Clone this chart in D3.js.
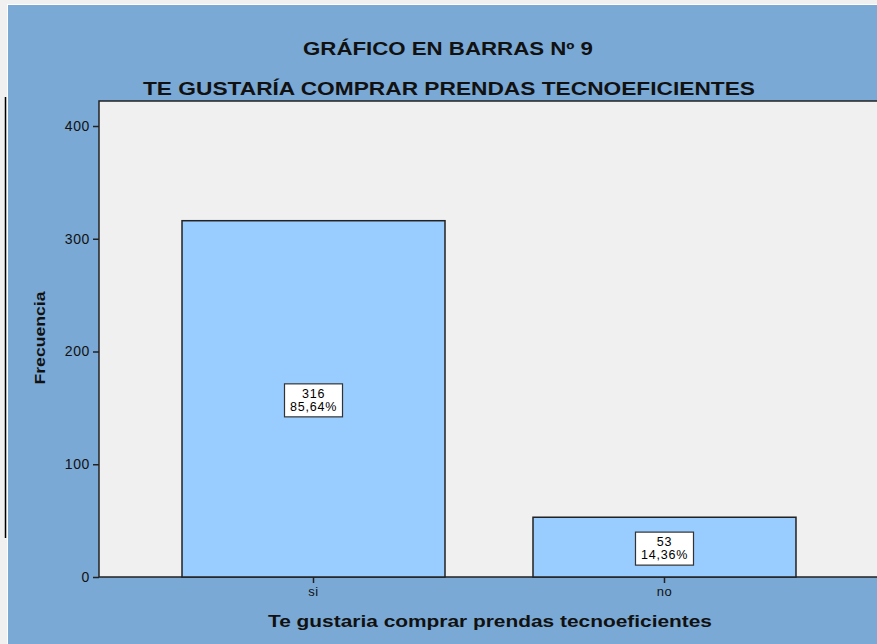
<!DOCTYPE html>
<html>
<head>
<meta charset="utf-8">
<script src="https://cdn.jsdelivr.net/npm/d3@7"></script>
<style>
  body { margin: 0; background: #f0f0f0; }
  text { font-family: "Liberation Sans", Arial, sans-serif; }
</style>
</head>
<body>
<div id="chart"></div>
<script>
// data
var categories = ["si", "no"];
var counts = [316, 53];
var percents = ["85,64%", "14,36%"];
var yTicks = [0, 100, 200, 300, 400];

var svgWidth = 877;
var svgHeight = 644;

var svg = d3.select("#chart")
  .append("svg")
  .attr("width", svgWidth)
  .attr("height", svgHeight);

// outer frame pieces
svg.append("rect").attr("x", 0).attr("y", 0).attr("width", svgWidth).attr("height", svgHeight).attr("fill", "#f0f0f0");
svg.append("rect").attr("x", 7).attr("y", 4).attr("width", svgWidth).attr("height", svgHeight).attr("fill", "#ffffff");
svg.append("rect").attr("x", 8).attr("y", 5).attr("width", svgWidth).attr("height", svgHeight).attr("fill", "#7ba9d5");
svg.append("line").attr("x1", 5.5).attr("x2", 5.5).attr("y1", 97).attr("y2", 538)
  .attr("stroke", "#000").attr("stroke-width", 1.5);

var plot = { left: 99, top: 101, right: 879, bottom: 577 };

var x = d3.scaleBand()
  .domain(categories)
  .range([plot.left, plot.right])
  .paddingInner(0.2507)
  .paddingOuter(0.2365);

var y = d3.scaleLinear()
  .domain([0, 400])
  .range([plot.bottom, 126]);

// plot background
svg.append("rect")
  .attr("x", plot.left)
  .attr("y", plot.top)
  .attr("width", plot.right - plot.left)
  .attr("height", plot.bottom - plot.top)
  .attr("fill", "#f0f0f0")
  .attr("stroke", "#222")
  .attr("stroke-width", 1.5);

// bars
svg.selectAll(".bar")
  .data(categories)
  .enter()
  .append("rect")
  .attr("class", "bar")
  .attr("x", d => x(d))
  .attr("y", (d, i) => y(counts[i]))
  .attr("width", x.bandwidth())
  .attr("height", (d, i) => y(0) - y(counts[i]))
  .attr("fill", "#99ccff")
  .attr("stroke", "#222")
  .attr("stroke-width", 1.5);

// value labels
var lab = svg.selectAll(".lab")
  .data(categories)
  .enter()
  .append("g")
  .attr("class", "lab")
  .attr("transform", (d, i) => `translate(${x(d) + x.bandwidth() / 2}, ${(y(counts[i]) + y(0)) / 2 + 1.5})`);

lab.append("rect")
  .attr("x", -29)
  .attr("y", -16.5)
  .attr("width", 58)
  .attr("height", 33)
  .attr("fill", "#fff")
  .attr("stroke", "#333")
  .attr("stroke-width", 1.2);

lab.append("text")
  .attr("text-anchor", "middle")
  .attr("y", -2.5)
  .attr("font-size", "12.5px")
  .attr("letter-spacing", "0.8px")
  .attr("fill", "#000")
  .text((d, i) => counts[i]);

lab.append("text")
  .attr("text-anchor", "middle")
  .attr("y", 10.5)
  .attr("font-size", "12.5px")
  .attr("letter-spacing", "0.8px")
  .attr("fill", "#000")
  .text((d, i) => percents[i]);

// axes
var leftAxis = d3.axisLeft(y).tickValues(yTicks).tickSize(6).tickPadding(3);
var gy = svg.append("g")
  .attr("transform", `translate(${plot.left}, 0)`)
  .call(leftAxis);
gy.select(".domain").remove();
gy.selectAll("line").attr("stroke", "#222").attr("stroke-width", 1.5);
gy.selectAll("text").attr("font-size", "14px").attr("fill", "#111")
  .attr("letter-spacing", "0.6px")
  .attr("font-family", "'Liberation Sans', Arial, sans-serif");

var bottomAxis = d3.axisBottom(x).tickSize(6).tickPadding(4);
var gx = svg.append("g")
  .attr("transform", `translate(0, ${plot.bottom})`)
  .call(bottomAxis);
gx.select(".domain").remove();
gx.selectAll("line").attr("stroke", "#222").attr("stroke-width", 1.5);
gx.selectAll("text").attr("font-size", "13px").attr("fill", "#111")
  .attr("letter-spacing", "0.6px")
  .attr("font-family", "'Liberation Sans', Arial, sans-serif");

// titles
svg.append("text")
  .attr("x", 448)
  .attr("y", 55)
  .attr("text-anchor", "middle")
  .attr("font-size", "18px")
  .attr("font-weight", "bold")
  .attr("fill", "#111")
  .attr("textLength", 290)
  .attr("lengthAdjust", "spacingAndGlyphs")
  .text("GRÁFICO EN BARRAS Nº 9");

svg.append("text")
  .attr("x", 449)
  .attr("y", 95)
  .attr("text-anchor", "middle")
  .attr("font-size", "18px")
  .attr("font-weight", "bold")
  .attr("fill", "#111")
  .attr("textLength", 612)
  .attr("lengthAdjust", "spacingAndGlyphs")
  .text("TE GUSTARÍA COMPRAR PRENDAS TECNOEFICIENTES");

svg.append("text")
  .attr("transform", "translate(45, 338) rotate(-90)")
  .attr("text-anchor", "middle")
  .attr("font-size", "15px")
  .attr("font-weight", "bold")
  .attr("fill", "#111")
  .attr("textLength", 93)
  .attr("lengthAdjust", "spacingAndGlyphs")
  .text("Frecuencia");

svg.append("text")
  .attr("x", 490)
  .attr("y", 627)
  .attr("text-anchor", "middle")
  .attr("font-size", "16.5px")
  .attr("font-weight", "bold")
  .attr("fill", "#111")
  .attr("textLength", 444)
  .attr("lengthAdjust", "spacingAndGlyphs")
  .text("Te gustaria comprar prendas tecnoeficientes");
</script>
</body>
</html>
